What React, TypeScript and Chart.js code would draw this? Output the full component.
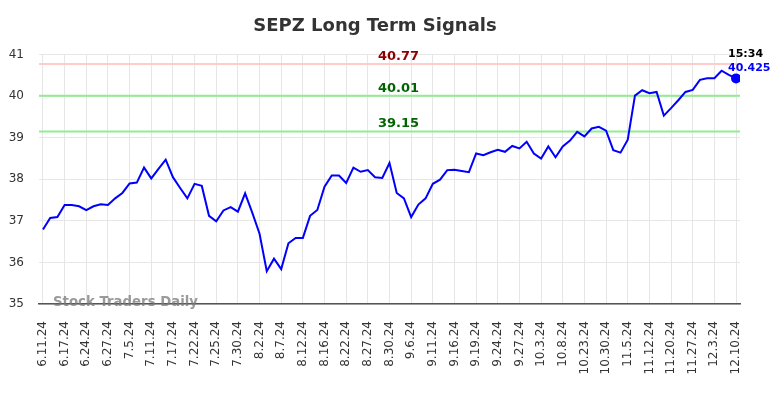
import React, { useEffect, useRef } from "react";
import { Chart, registerables } from "chart.js";

Chart.register(...registerables);

const TITLE = "SEPZ Long Term Signals";
const WATERMARK = "Stock Traders Daily";
const LAST_TIME = "15:34";

// Every third trading session carries a tick label.
const tickLabels = [
  "6.11.24", "6.17.24", "6.24.24", "6.27.24", "7.5.24", "7.11.24", "7.17.24",
  "7.22.24", "7.25.24", "7.30.24", "8.2.24", "8.7.24", "8.12.24", "8.16.24",
  "8.22.24", "8.27.24", "8.30.24", "9.6.24", "9.11.24", "9.16.24", "9.19.24",
  "9.24.24", "9.27.24", "10.3.24", "10.8.24", "10.23.24", "10.30.24", "11.5.24",
  "11.12.24", "11.20.24", "11.27.24", "12.3.24", "12.10.24",
];
const SESSIONS_PER_TICK = 3;

const prices = [
  36.79, 37.07, 37.09, 37.38, 37.38, 37.35, 37.26, 37.35, 37.40, 37.38,
  37.54, 37.67, 37.90, 37.92, 38.28, 38.02, 38.25, 38.47, 38.05, 37.79,
  37.54, 37.89, 37.84, 37.12, 36.99, 37.25, 37.33, 37.22, 37.66, 37.19,
  36.69, 35.79, 36.09, 35.84, 36.46, 36.59, 36.59, 37.12, 37.26, 37.82,
  38.09, 38.09, 37.91, 38.28, 38.18, 38.22, 38.05, 38.03, 38.39, 37.67,
  37.54, 37.09, 37.39, 37.54, 37.89, 37.99, 38.22, 38.23, 38.20, 38.17,
  38.62, 38.58, 38.65, 38.71, 38.66, 38.80, 38.74, 38.90, 38.62, 38.50,
  38.79, 38.53, 38.79, 38.93, 39.14, 39.03, 39.22, 39.26, 39.17, 38.70,
  38.64, 38.95, 40.01, 40.14, 40.07, 40.10, 39.53, 39.71, 39.90, 40.10,
  40.15, 40.39, 40.43, 40.43, 40.61, 40.51, 40.425,
];

const signalLevels = [40.77, 40.01, 39.15];
const yTicks = [35, 36, 37, 38, 39, 40, 41];

const FONT = "'DejaVu Sans', sans-serif";
const levelLineColors = ["#ffcccc", "#90ee90", "#90ee90"];
const levelTextColors = ["#8b0000", "#006400", "#006400"];

const overlayPlugin = {
  id: "overlay",
  beforeDraw(chart: any) {
    const { ctx } = chart;
    ctx.save();
    ctx.font = `bold 18px ${FONT}`;
    ctx.fillStyle = "#333333";
    ctx.textAlign = "center";
    ctx.textBaseline = "middle";
    ctx.fillText(TITLE, 375, 26);
    ctx.restore();
  },
  beforeDatasetsDraw(chart: any) {
    const { ctx, chartArea: a, scales } = chart;
    const y = scales.y;
    ctx.save();
    signalLevels.forEach((v, i) => {
      const py = y.getPixelForValue(v);
      ctx.strokeStyle = levelLineColors[i];
      ctx.lineWidth = 2;
      ctx.beginPath();
      ctx.moveTo(a.left, py);
      ctx.lineTo(a.right, py);
      ctx.stroke();
      ctx.font = `bold 13px ${FONT}`;
      ctx.fillStyle = levelTextColors[i];
      ctx.textAlign = "center";
      ctx.textBaseline = "alphabetic";
      ctx.fillText(v.toFixed(2), (a.left + a.right) / 2 + 9, py - 4);
    });
    ctx.font = `bold 13.3px ${FONT}`;
    ctx.fillStyle = "rgba(120,120,120,0.75)";
    ctx.textAlign = "left";
    ctx.textBaseline = "middle";
    ctx.fillText(WATERMARK, a.left + 14, a.bottom - 1);
    ctx.restore();
  },
  afterDatasetsDraw(chart: any) {
    const { ctx, scales } = chart;
    const last = prices.length - 1;
    const px = scales.x.getPixelForValue(last);
    const py = scales.y.getPixelForValue(prices[last]);
    ctx.save();
    ctx.font = `bold 11px ${FONT}`;
    ctx.textAlign = "left";
    ctx.textBaseline = "middle";
    ctx.fillStyle = "#000000";
    ctx.fillText(LAST_TIME, px - 8, py - 24.5);
    ctx.fillStyle = "#0000ff";
    ctx.fillText(String(prices[last]), px - 8, py - 10.5);
    ctx.restore();
  },
};

export default function App() {
  const ref = useRef<HTMLCanvasElement>(null);
  useEffect(() => {
    document.body.style.margin = "0";
    const canvas = ref.current!;
    const last = prices.length - 1;
    const chart = new Chart(canvas, {
      type: "line",
      data: {
        datasets: [
          {
            data: prices.map((v, i) => ({ x: i, y: v })),
            borderColor: "#0000ff",
            backgroundColor: "#0000ff",
            borderWidth: 2,
            tension: 0,
            pointRadius: (c: any) => (c.dataIndex === last ? 4 : 0),
            pointHoverRadius: 0,
          },
        ],
      },
      options: {
        animation: false,
        responsive: false,
        maintainAspectRatio: false,
        devicePixelRatio: 1,
        layout: { padding: { top: 54.5, right: 44, left: 0, bottom: 0 } },
        plugins: {
          legend: { display: false },
          title: { display: false },
          tooltip: { enabled: false },
        },
        scales: {
          x: {
            type: "linear",
            min: -0.55,
            max: (tickLabels.length - 1) * SESSIONS_PER_TICK + 0.55,
            afterBuildTicks: (s: any) => {
              s.ticks = tickLabels.map((_, k) => ({ value: k * SESSIONS_PER_TICK }));
            },
            afterFit: (s: any) => {
              s.height = 94;
            },
            ticks: {
              autoSkip: false,
              maxRotation: 90,
              minRotation: 90,
              padding: 17,
              color: "#333333",
              font: { family: FONT, size: 12 },
              callback: (v: any) => tickLabels[Math.round(Number(v) / SESSIONS_PER_TICK)],
            },
            grid: { color: "#e6e6e6", lineWidth: 1, drawTicks: false },
            border: { display: true, color: "#555555", width: 1.5 },
          },
          y: {
            type: "linear",
            min: 35,
            max: 41,
            afterBuildTicks: (s: any) => {
              s.ticks = yTicks.map((v) => ({ value: v }));
            },
            afterFit: (s: any) => {
              s.width = 39;
            },
            ticks: {
              padding: 15,
              color: "#333333",
              font: { family: FONT, size: 12 },
            },
            grid: { color: "#e6e6e6", lineWidth: 1, drawTicks: false },
            border: { display: false },
          },
        },
      },
      plugins: [overlayPlugin],
    } as any);
    return () => chart.destroy();
  }, []);
  return <canvas ref={ref} width={784} height={398} style={{ display: "block" }} />;
}
